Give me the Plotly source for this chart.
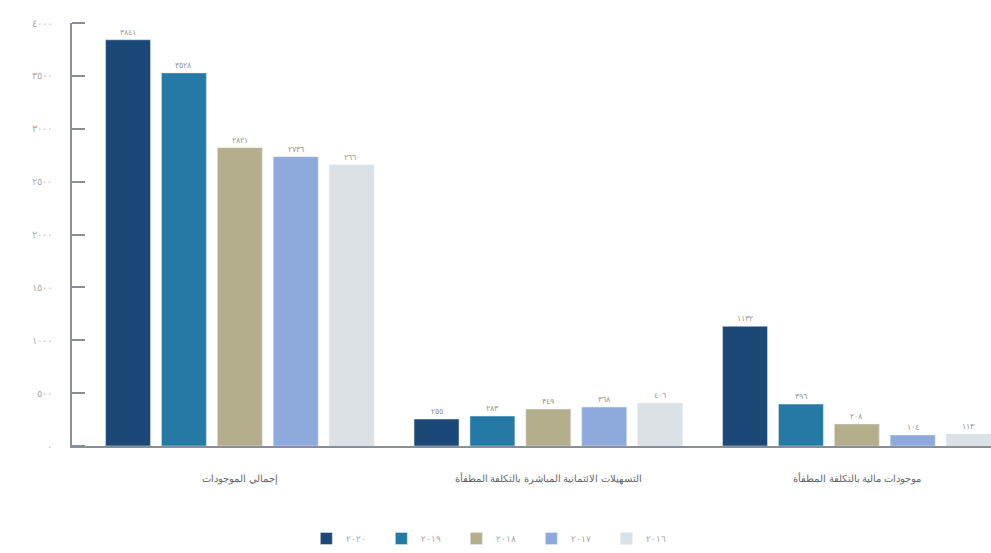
import plotly.graph_objects as go

categories = ["إجمالي الموجودات", "التسهيلات الائتمانية المباشرة بالتكلفة المطفأة", "موجودات مالية بالتكلفة المطفأة"]
years = ["٢٠٢٠", "٢٠١٩", "٢٠١٨", "٢٠١٧", "٢٠١٦"]
values_2020 = [3841, 255, 1132]
values_2019 = [3528, 283, 396]
values_2018 = [2821, 349, 208]
values_2017 = [2736, 368, 104]
values_2016 = [2660, 406, 113]
series = [values_2020, values_2019, values_2018, values_2017, values_2016]
colors = ["#1c4877", "#2479a5", "#b4ae8c", "#8ea9db", "#dbe1e4"]
y_ticks = [0, 500, 1000, 1500, 2000, 2500, 3000, 3500, 4000]

AR = str.maketrans("0123456789", "٠١٢٣٤٥٦٧٨٩")
def ar(n):
    return str(n).translate(AR)

fig = go.Figure()
for name, vals, col in zip(years, series, colors):
    fig.add_trace(go.Bar(
        x=categories, y=vals, name=name, marker_color=col,
        text=[ar(v) for v in vals], textposition="outside",
        textfont=dict(size=8, color="#9a9a9a", family="Noto Sans"),
        cliponaxis=False,
    ))
# invisible helper trace so the tick-mark axis is drawn
fig.add_trace(go.Scatter(x=[categories[0]], y=[0], yaxis="y2", mode="markers",
                         marker=dict(opacity=0), showlegend=False, hoverinfo="skip"))

fig.update_layout(
    width=991, height=553,
    margin=dict(l=72, r=0, t=23, b=106),
    paper_bgcolor="white", plot_bgcolor="white",
    barmode="group", bargap=0.094, bargroupgap=0.196,
    font=dict(family="Noto Sans", color="#777"),
    showlegend=True,
    legend=dict(orientation="h", x=0.459, xanchor="center", y=-0.22, yanchor="middle",
                font=dict(size=9, color="#aaa"), itemwidth=30, traceorder="normal",
                entrywidth=30, entrywidthmode="pixels"),
    yaxis2=dict(overlaying="y", anchor="free", position=13 / 919, side="left",
                range=[0, 4000], tickvals=y_ticks, showticklabels=False,
                ticks="outside", ticklen=13, tickwidth=2, tickcolor="#8a8f96",
                showline=False, showgrid=False, zeroline=False),
)
fig.update_xaxes(
    range=[-0.544, 2.435], showline=True, linecolor="#8a8f96", linewidth=2,
    ticks="", tickfont=dict(size=10, color="#666"), showgrid=False,
    ticklabelstandoff=22,
)
fig.update_layout(yaxis=dict(
    range=[0, 4000], tickvals=y_ticks, ticktext=[ar(v) + "      " for v in y_ticks],
    showline=True, linecolor="#8a8f96", linewidth=2, ticks="",
    tickfont=dict(size=10, color="#b0b0b0"), showgrid=False, zeroline=False,
))

fig.write_html("out.html", config={"displayModeBar": False},
               post_script="document.body.style.margin='0';document.body.style.overflow='hidden';")
